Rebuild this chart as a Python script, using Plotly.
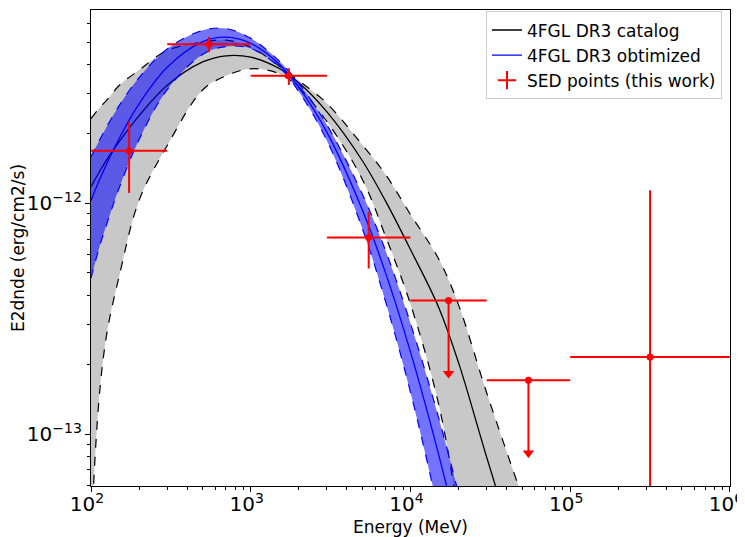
import plotly.graph_objects as go

model_e = [100, 112.2, 125.9, 150, 200, 300, 500, 700, 1000, 1500, 2000, 3000,
           5000, 7000, 10000, 15000, 20000, 30000, 50000]

# 4FGL DR3 catalog model (E2dnde, erg/cm2/s) and its error band
cat_mid = [1.18e-12, 1.36e-12, 1.55e-12, 1.85e-12, 2.40e-12, 3.25e-12, 4.10e-12, 4.36e-12,
           4.30e-12, 3.85e-12, 3.33e-12, 2.49e-12, 1.53e-12, 1.02e-12, 6.31e-13, 3.55e-13,
           2.04e-13, 7.94e-14, 2.51e-14]
cat_hi = [2.33e-12, 2.58e-12, 2.81e-12, 3.24e-12, 3.78e-12, 4.60e-12, 5.00e-12, 5.10e-12,
          4.75e-12, 3.95e-12, 3.40e-12, 2.71e-12, 1.79e-12, 1.33e-12, 8.95e-13, 5.75e-13,
          3.63e-13, 1.51e-13, 5.37e-14]
cat_lo = [3.55e-14, 1.41e-13, 2.75e-13, 4.82e-13, 1.03e-12, 1.78e-12, 3.10e-12, 3.57e-12,
          3.83e-12, 3.65e-12, 3.17e-12, 2.26e-12, 1.27e-12, 7.16e-13, 3.66e-13, 1.35e-13,
          4.47e-14, 7.9e-15, 1e-15]

# 4FGL DR3 optimized model
opt_mid = [1.03e-12, 1.25e-12, 1.49e-12, 1.91e-12, 2.70e-12, 3.89e-12, 5.02e-12, 5.25e-12,
           4.94e-12, 4.03e-12, 3.18e-12, 2.03e-12, 9.36e-13, 4.97e-13, 2.27e-13, 8.17e-14,
           3.62e-14, 1.02e-14, 1.66e-15]
opt_hi = [1.59e-12, 1.86e-12, 2.16e-12, 2.65e-12, 3.51e-12, 4.67e-12, 5.62e-12, 5.72e-12,
          5.19e-12, 4.15e-12, 3.31e-12, 2.19e-12, 1.095e-12, 6.21e-13, 3.02e-13, 1.18e-13,
          5.5e-14, 1.68e-14, 3.0e-15]
opt_lo = [4.74e-13, 6.38e-13, 8.20e-13, 1.165e-12, 1.89e-12, 3.11e-12, 4.42e-12, 4.78e-12,
          4.69e-12, 3.91e-12, 3.05e-12, 1.87e-12, 7.77e-13, 3.73e-13, 1.52e-13, 4.58e-14,
          1.74e-14, 3.57e-15, 3.3e-16]

# SED points (this work)
sed_e = [173.2, 547.7, 1732, 5477, 17321, 54772, 316228]
sed_emin = [100, 300, 1000, 3000, 10000, 30000, 100000]
sed_emax = [300, 1000, 3000, 10000, 30000, 100000, 1000000]
sed_flux = [1.69e-12, 4.89e-12, 3.57e-12, 7.12e-13, 3.79e-13, 1.71e-13, 2.16e-13]
sed_flux_hi = [2.26e-12, 5.27e-12, 3.85e-12, 9.2e-13, 3.79e-13, 1.71e-13, 1.14e-12]
sed_flux_lo = [1.11e-12, 4.52e-12, 3.26e-12, 5.22e-13, 1.83e-13, 8.28e-14, 1e-16]
sed_ul = [False, False, False, False, True, True, False]

FONT = "DejaVu Sans"
FS = 17
RED = "rgb(255,0,0)"

fig = go.Figure()

# catalog band
fig.add_trace(go.Scatter(x=model_e, y=cat_hi, mode="lines", line=dict(color="black", width=1.2, dash="dash", shape="spline"),
                         showlegend=False, hoverinfo="skip"))
fig.add_trace(go.Scatter(x=model_e, y=cat_lo, mode="lines", fill="tonexty", fillcolor="rgb(200,200,200)",
                         line=dict(color="black", width=1.2, dash="dash", shape="spline"),
                         showlegend=False, hoverinfo="skip"))
fig.add_trace(go.Scatter(x=model_e, y=cat_mid, mode="lines", line=dict(color="black", width=1.3, shape="spline"),
                         name="4FGL DR3 catalog"))

# optimized band
fig.add_trace(go.Scatter(x=model_e, y=opt_hi, mode="lines", line=dict(color="blue", width=1.2, dash="dash", shape="spline"),
                         showlegend=False, hoverinfo="skip"))
fig.add_trace(go.Scatter(x=model_e, y=opt_lo, mode="lines", fill="tonexty", fillcolor="rgba(0,0,255,0.55)",
                         line=dict(color="blue", width=1.2, dash="dash", shape="spline"),
                         showlegend=False, hoverinfo="skip"))
fig.add_trace(go.Scatter(x=model_e, y=opt_mid, mode="lines", line=dict(color="blue", width=1.3, shape="spline"),
                         name="4FGL DR3 obtimized"))

# SED points: detections and upper limits
for ul in (False, True):
    idx = [i for i in range(len(sed_e)) if sed_ul[i] == ul]
    xs = [sed_e[i] for i in idx]
    ys = [sed_flux[i] for i in idx]
    fig.add_trace(go.Scatter(
        x=xs, y=ys, mode="markers",
        marker=dict(color=RED, size=7, symbol="circle"),
        error_x=dict(type="data", symmetric=False,
                     array=[sed_emax[i] - sed_e[i] for i in idx],
                     arrayminus=[sed_e[i] - sed_emin[i] for i in idx],
                     color=RED, thickness=2, width=0),
        error_y=dict(type="data", symmetric=False,
                     array=[sed_flux_hi[i] - sed_flux[i] for i in idx],
                     arrayminus=[sed_flux[i] - sed_flux_lo[i] for i in idx],
                     color=RED, thickness=2, width=0),
        showlegend=False, hoverinfo="skip"))
    if ul:
        # arrow heads of the upper limits
        fig.add_trace(go.Scatter(
            x=xs, y=[sed_flux_lo[i] for i in idx], mode="markers",
            marker=dict(color=RED, size=10, symbol="triangle-down"),
            showlegend=False, hoverinfo="skip"))

# legend entry for the SED points
fig.add_trace(go.Scatter(x=[None], y=[None], mode="markers",
                         marker=dict(color=RED, size=13, symbol="cross-thin", line=dict(color=RED, width=2)),
                         name="SED points (this work)"))

axis_common = dict(
    type="log", dtick=1, exponentformat="power", showgrid=False, zeroline=False,
    showline=True, linecolor="black", linewidth=1, mirror=True, automargin=False,
    ticks="outside", ticklen=5, tickwidth=1, tickcolor="black", ticklabeloverflow="allow",
    minor=dict(ticks="outside", ticklen=3, tickwidth=1, tickcolor="black", dtick="D1", showgrid=False),
    tickfont=dict(family=FONT, size=16, color="black"),
)
# labels nudged left a little so that 10^6 stays inside the window
fig.update_xaxes(range=[2, 6.0005], ticklabelstandoff=-4, ticklabelshift=-4,
                 title=dict(text="Energy (MeV)", font=dict(family=FONT, size=FS, color="black"), standoff=6),
                 **axis_common)
fig.update_yaxes(range=[-13.225, -11.162],
                 title=dict(text="E2dnde (erg/cm2/s)", font=dict(family=FONT, size=FS, color="black"), standoff=10),
                 **axis_common)

# the page body adds an 8px offset; the figure is placed so the axes land where the reference has them
fig.update_layout(
    width=745, height=529,
    margin=dict(l=83, r=23, t=2, b=51),
    paper_bgcolor="white", plot_bgcolor="white",
    font=dict(family=FONT, size=FS, color="black"),
    legend=dict(x=0.9875, y=0.997, xanchor="right", yanchor="top", traceorder="normal",
                bgcolor="rgba(255,255,255,0.8)", bordercolor="rgb(204,204,204)", borderwidth=1,
                font=dict(family=FONT, size=FS, color="black"), tracegroupgap=2),
)

fig.write_html("out.html")
